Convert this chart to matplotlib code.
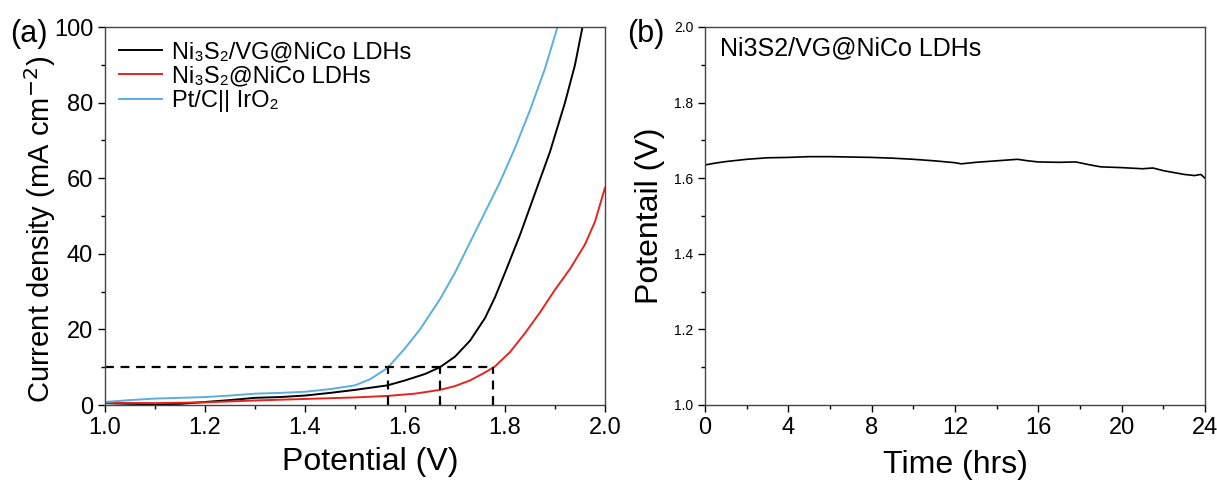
import numpy as np
import matplotlib.pyplot as plt
from matplotlib.ticker import MultipleLocator

plt.rcParams['font.family'] = ['Liberation Sans', 'DejaVu Sans']

# (a) polarization curves
v_black = [1.00, 1.05, 1.10, 1.15, 1.20, 1.25, 1.30, 1.35, 1.40, 1.45, 1.50, 1.565,
           1.60, 1.64, 1.67, 1.70, 1.73, 1.76, 1.78, 1.80, 1.83, 1.86, 1.89, 1.92, 1.94, 1.955]
j_black = [0.5, 0.3, 0.2, 0.3, 0.8, 1.3, 1.9, 2.1, 2.5, 3.2, 4.0, 5.2,
           6.5, 8.2, 10.0, 12.8, 17.0, 23.0, 28.5, 35.0, 45.0, 56.0, 67.0, 80.0, 90.0, 100.0]

v_red = [1.00, 1.10, 1.20, 1.30, 1.40, 1.50, 1.565, 1.62, 1.67, 1.70, 1.73, 1.76, 1.78,
         1.81, 1.84, 1.87, 1.90, 1.93, 1.96, 1.98, 2.00]
j_red = [0.6, 0.5, 0.7, 1.2, 1.6, 2.0, 2.4, 3.0, 4.0, 5.0, 6.5, 8.6, 10.2,
         14.0, 19.0, 24.5, 30.5, 36.0, 42.5, 48.5, 57.5]

v_blue = [1.00, 1.05, 1.10, 1.15, 1.20, 1.25, 1.30, 1.35, 1.40, 1.45, 1.50, 1.53, 1.565,
          1.60, 1.63, 1.67, 1.70, 1.73, 1.76, 1.79, 1.82, 1.85, 1.88, 1.905]
j_blue = [0.8, 1.3, 1.7, 1.9, 2.1, 2.5, 3.0, 3.2, 3.5, 4.2, 5.2, 6.8, 9.8,
          15.0, 20.0, 28.0, 35.0, 43.0, 51.0, 59.0, 68.0, 78.0, 89.0, 100.0]

# overpotential markers at 10 mA cm-2
v_marks = [1.565, 1.67, 1.775]
j_mark = 10

# (b) stability test
t_hrs = [0, 0.5, 1, 2, 3, 4, 5, 6, 7, 8, 9, 10, 11, 12, 12.3, 13, 14, 15, 15.5, 16, 17,
         17.8, 18.5, 19, 20, 21, 21.5, 22, 22.5, 23, 23.5, 23.8, 24]
e_volt = [1.635, 1.640, 1.644, 1.650, 1.654, 1.655, 1.657, 1.657, 1.656, 1.655, 1.653, 1.650,
          1.646, 1.641, 1.638, 1.642, 1.646, 1.650, 1.646, 1.643, 1.642, 1.643, 1.635, 1.630,
          1.628, 1.625, 1.627, 1.620, 1.615, 1.610, 1.607, 1.610, 1.600]

fig = plt.figure(figsize=(12.17, 4.88), dpi=100)
ax1 = fig.add_axes([105/1217, 83/488, 500/1217, 378/488])
ax2 = fig.add_axes([705/1217, 83/488, 500/1217, 378/488])

ax1.plot(v_black, j_black, color='black', lw=1.4, label='Ni\u2083S\u2082/VG@NiCo LDHs')
ax1.plot(v_red, j_red, color='#E8231F', lw=1.4, label='Ni\u2083S\u2082@NiCo LDHs')
ax1.plot(v_blue, j_blue, color='#5AAFE0', lw=1.4, label='Pt/C|| IrO\u2082')
ax1.hlines(j_mark, 1.0, max(v_marks), colors='black', linestyles=(0, (4, 3)), lw=1.6)
ax1.vlines(v_marks, 0, j_mark, colors='black', linestyles=(0, (4, 3)), lw=1.6)

ax1.set_xlim(1.0, 2.0)
ax1.set_ylim(0, 100)
ax1.xaxis.set_major_locator(MultipleLocator(0.2))
ax1.xaxis.set_minor_locator(MultipleLocator(0.1))
ax1.yaxis.set_major_locator(MultipleLocator(20))
ax1.yaxis.set_minor_locator(MultipleLocator(10))
ax1.set_xticklabels(['%.1f' % v for v in ax1.get_xticks()])
ax1.tick_params(labelsize=17)
ax1.set_xlabel('Potential (V)', fontsize=23)
ax1.xaxis.set_label_coords(0.53, -0.112)
ax1.set_ylabel('Current density (mA cm$^{-2}$)', fontsize=21, labelpad=-3)
ax1.yaxis.label.set_y(0.465)
leg = ax1.legend(loc='upper left', fontsize=17, frameon=False, handlelength=1.8,
                 handletextpad=0.45, borderaxespad=0.2, labelspacing=0.1)

ax2.plot(t_hrs, e_volt, color='black', lw=1.2)
ax2.set_xlim(0, 24)
ax2.set_ylim(1.0, 2.0)
ax2.xaxis.set_major_locator(MultipleLocator(4))
ax2.xaxis.set_minor_locator(MultipleLocator(2))
ax2.yaxis.set_major_locator(MultipleLocator(0.2))
ax2.yaxis.set_minor_locator(MultipleLocator(0.1))
ax2.tick_params(axis='x', labelsize=17)
ax2.tick_params(axis='y', labelsize=10)
ax2.set_xlabel('Time (hrs)', fontsize=23, labelpad=8)
ax2.set_ylabel('Potentail (V)', fontsize=23, labelpad=6)
ax2.text(0.03, 0.975, 'Ni3S2/VG@NiCo LDHs', transform=ax2.transAxes, fontsize=18,
         va='top', ha='left')

for ax in (ax1, ax2):
    ax.tick_params(which='both', direction='out', top=False, right=False, width=1.0)
    ax.tick_params(which='major', length=5)
    ax.tick_params(which='minor', length=3)
    for s in ax.spines.values():
        s.set_color('#444444')
        s.set_linewidth(1.0)

fig.text(10/1217, 1 - 42/488, '(a)', fontsize=22)
fig.text(627/1217, 1 - 42/488, '(b)', fontsize=22)

fig.savefig('out.png', dpi=100)
